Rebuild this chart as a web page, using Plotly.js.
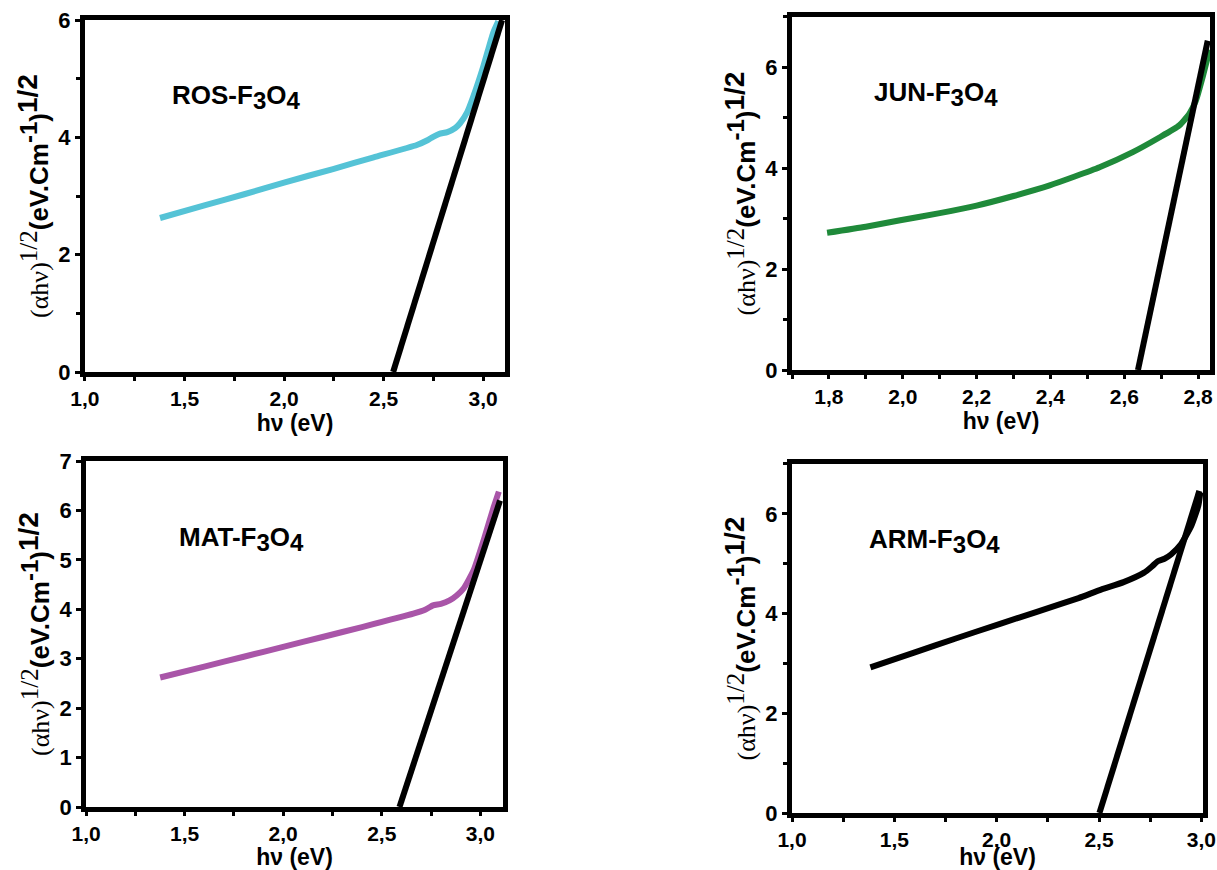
<!DOCTYPE html>
<html>
<head>
<meta charset="utf-8">
<script src="https://cdn.plot.ly/plotly-3.0.1.min.js"></script>
<style>html,body{margin:0;padding:0;background:#fff;}</style>
</head>
<body>
<div id="chart" style="width:1217px;height:870px;"></div>
<script>
// ROS-F3O4
const rosX = [1.377, 1.6, 1.8, 2.0, 2.246, 2.45, 2.667, 2.72, 2.749, 2.78, 2.82, 2.86, 2.884, 2.92, 2.95, 3.0, 3.05, 3.076];
const rosY = [2.625, 2.84, 3.03, 3.23, 3.46, 3.66, 3.87, 3.95, 4.01, 4.06, 4.09, 4.16, 4.24, 4.43, 4.69, 5.2, 5.78, 5.98];
const rosFitX = [2.548, 3.095];
const rosFitY = [0, 6.0];

// JUN-F3O4
const junX = [1.795, 1.9, 1.993, 2.1, 2.2, 2.3, 2.398, 2.533, 2.623, 2.695, 2.749, 2.776, 2.794, 2.812, 2.826, 2.832];
const junY = [2.72, 2.84, 2.97, 3.11, 3.26, 3.45, 3.66, 4.02, 4.32, 4.61, 4.85, 5.08, 5.34, 5.80, 6.2, 6.35];
const junFitX = [2.637, 2.826];
const junFitY = [0, 6.53];

// MAT-F3O4
const matX = [1.376, 1.6, 1.8, 2.0, 2.2, 2.4, 2.66, 2.72, 2.76, 2.8, 2.844, 2.88, 2.915, 2.966, 3.017, 3.068, 3.094];
const matY = [2.62, 2.84, 3.04, 3.24, 3.44, 3.64, 3.91, 3.99, 4.08, 4.11, 4.18, 4.28, 4.42, 4.79, 5.40, 6.07, 6.38];
const matFitX = [2.59, 3.10];
const matFitY = [0, 6.2];

// ARM-F3O4
const armX = [1.383, 1.6, 1.8, 2.02, 2.2, 2.4, 2.51, 2.62, 2.72, 2.76, 2.787, 2.82, 2.853, 2.9, 2.95, 2.985, 2.995];
const armY = [2.92, 3.22, 3.5, 3.8, 4.04, 4.31, 4.48, 4.63, 4.82, 4.95, 5.05, 5.1, 5.19, 5.39, 5.75, 6.16, 6.43];
const armFitX = [2.502, 2.99];
const armFitY = [0, 6.46];

const labels = ['ROS-F', 'JUN-F', 'MAT-F', 'ARM-F'];
const colors = ['#55c3d6', '#1f8a3a', '#a955a8', '#000000'];

const FONT = 'Liberation Sans, Arial, sans-serif';
const TICKFONT = 'Liberation Sans Narrow, Arial Narrow, Liberation Sans, Arial, sans-serif';
const yTitle = '<span style="font-family:Liberation Serif, Times New Roman, serif;font-weight:normal">(αhν)<sup><span style="font-size:25px">1/2</span></sup></span>(eV.Cm<sup><span style="font-size:24px">-1</span></sup>)<sup><span style="font-size:28px">1/2</span></sup>';

function line(x, y, color, xa, ya) {
  return {x: x, y: y, type: 'scatter', mode: 'lines', xaxis: xa, yaxis: ya,
    line: {color: color, width: 6, shape: 'spline', smoothing: 0.5}, showlegend: false, hoverinfo: 'skip'};
}
function fit(x, y, xa, ya) {
  return {x: x, y: y, type: 'scatter', mode: 'lines', xaxis: xa, yaxis: ya,
    line: {color: '#000', width: 6}, showlegend: false, hoverinfo: 'skip'};
}

const data = [
  line(rosX, rosY, colors[0], 'x', 'y'), fit(rosFitX, rosFitY, 'x', 'y'),
  line(junX, junY, colors[1], 'x2', 'y2'), fit(junFitX, junFitY, 'x2', 'y2'),
  line(matX, matY, colors[2], 'x3', 'y3'), fit(matFitX, matFitY, 'x3', 'y3'),
  line(armX, armY, colors[3], 'x4', 'y4'), fit(armFitX, armFitY, 'x4', 'y4')
];

function xax(domain, range, dtick, anchor, standoff) {
  return {domain: domain, range: range, anchor: anchor, dtick: dtick, tick0: 0, tickformat: '.1f',
    showline: true, linewidth: 5, linecolor: '#000', mirror: true, showgrid: false, zeroline: false,
    ticks: 'outside', ticklen: 4, tickwidth: 3, tickcolor: '#000',
    ticklabeloverflow: 'allow',
    minor: {dtick: dtick / 2, ticks: 'outside', ticklen: 4, tickwidth: 3, tickcolor: '#000', showgrid: false},
    tickfont: {family: TICKFONT, size: 21, color: '#000', weight: 'bold'},
    title: {text: 'hν (eV)', font: {family: FONT, size: 23, color: '#000', weight: 'bold'}, standoff: standoff}};
}
function yax(domain, range, dtick, anchor) {
  return {domain: domain, range: range, anchor: anchor, dtick: dtick, tick0: 0,
    showline: true, linewidth: 5, linecolor: '#000', mirror: true, showgrid: false, zeroline: false,
    ticks: 'outside', ticklen: 5, tickwidth: 3, tickcolor: '#000',
    ticklabeloverflow: 'allow',
    minor: dtick > 1 ? {dtick: dtick / 2, ticks: 'outside', ticklen: 4, tickwidth: 3, tickcolor: '#000', showgrid: false} : undefined,
    tickfont: {family: TICKFONT, size: 22, color: '#000', weight: 'bold'},
    title: {text: yTitle, font: {family: FONT, size: 26, color: '#000', weight: 'bold'}, standoff: 4}};
}

const annPos = [
  {x: 1.427, y: 4.69, xref: 'x', yref: 'y'},
  {x: 1.916, y: 5.48, xref: 'x2', yref: 'y2'},
  {x: 1.46, y: 5.43, xref: 'x3', yref: 'y3'},
  {x: 1.367, y: 5.45, xref: 'x4', yref: 'y4'}
];
const annotations = annPos.map((p, i) => ({
  x: p.x, y: p.y, xref: p.xref, yref: p.yref, xanchor: 'left', yanchor: 'middle', showarrow: false,
  text: labels[i] + '<sub><span style="font-size:24px">3</span></sub>O<sub><span style="font-size:24px">4</span></sub>',
  font: {family: FONT, size: 26, color: '#000', weight: 'bold'}
}));

const layout = {
  width: 1217, height: 870, autosize: false,
  margin: {l: 0, r: 0, t: 0, b: 0},
  paper_bgcolor: '#fff', plot_bgcolor: '#fff',
  separators: ',.',
  xaxis: xax([0.0698, 0.415], [1.0, 3.11], 0.5, 'y', 5),
  yaxis: yax([0.5724, 0.977], [0, 6], 2, 'x'),
  xaxis2: xax([0.6508, 0.9942], [1.7, 2.832], 0.2, 'y2', 5),
  yaxis2: yax([0.5747, 0.9805], [0, 7], 2, 'x2'),
  xaxis3: xax([0.0707, 0.4133], [1.0, 3.115], 0.5, 'y3', 5),
  yaxis3: yax([0.0724, 0.4701], [0, 7], 1, 'x3'),
  xaxis4: xax([0.6508, 0.9885], [1.0, 3.008], 0.5, 'y4', 8),
  yaxis4: yax([0.0655, 0.4667], [0, 7], 2, 'x4'),
  annotations: annotations
};

Plotly.newPlot('chart', data, layout, {displayModeBar: false, staticPlot: true});
</script>
</body>
</html>
